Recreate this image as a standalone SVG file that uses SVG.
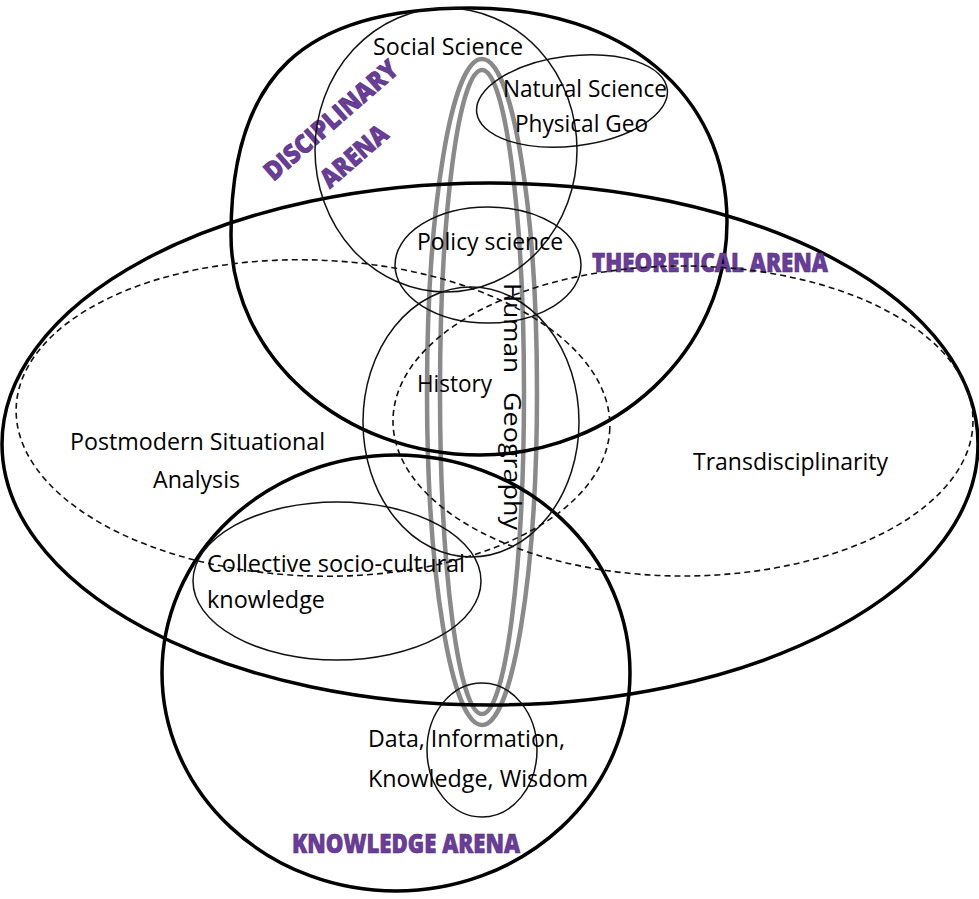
<svg xmlns="http://www.w3.org/2000/svg" width="979" height="899" viewBox="0 0 979 899">
  <defs>
    <style>
      .arena { fill: none; stroke: #000; stroke-width: 3.5; }
      .circle { fill: none; stroke: #111; stroke-width: 1.5; }
      .dashed { fill: none; stroke: #111; stroke-width: 1.6; stroke-dasharray: 6 4; }
      .loop { fill: none; stroke: #8a8a8a; stroke-width: 4.5; }
      .lbl { font-family: "Open Sans", "Noto Sans", sans-serif; font-size: 24px; fill: #000; }
      .arena-lbl { font-family: "Open Sans", "Noto Sans", sans-serif; font-weight: 800; font-size: 26px; fill: #6a3d9a; stroke: #4b2a72; stroke-width: 0.6; }
    </style>
  </defs>
  <rect width="979" height="899" fill="#fff"/>

  <!-- Human Geography: long double-lined loop running through the arenas -->
  <g id="human-geography">
    <ellipse class="loop" cx="482" cy="392" rx="55" ry="333"/>
    <ellipse class="loop" cx="482" cy="392" rx="42" ry="322"/>
  </g>

  <!-- Disciplinary arena -->
  <g id="disciplinary-arena">
    <path class="arena" d="M231,235 C231,76 303,8 470,8 C624,8 727,94 727,222 C727,351 615,455 480,455 C342,455 231,356 231,235 Z"/>
    <text class="arena-lbl" transform="translate(337,127) rotate(-41)" text-anchor="middle" textLength="168" lengthAdjust="spacingAndGlyphs">DISCIPLINARY</text>
    <text class="arena-lbl" transform="translate(360,163) rotate(-41)" text-anchor="middle" textLength="80" lengthAdjust="spacingAndGlyphs">ARENA</text>
  </g>

  <!-- Theoretical arena -->
  <g id="theoretical-arena">
    <ellipse class="arena" cx="490" cy="444" rx="488" ry="261"/>
    <text class="arena-lbl" x="592" y="272" textLength="236" lengthAdjust="spacingAndGlyphs">THEORETICAL ARENA</text>
  </g>

  <!-- Knowledge arena -->
  <g id="knowledge-arena">
    <ellipse class="arena" cx="396" cy="673" rx="234" ry="218"/>
    <text class="arena-lbl" x="292" y="853" textLength="228" lengthAdjust="spacingAndGlyphs">KNOWLEDGE ARENA</text>
  </g>

  <!-- Postmodern situational analysis (dashed) -->
  <g id="postmodern">
    <ellipse class="dashed" cx="313" cy="418" rx="297" ry="158" transform="rotate(2 313 418)"/>
    <text class="lbl" x="70" y="450" textLength="255" lengthAdjust="spacingAndGlyphs">Postmodern Situational</text>
    <text class="lbl" x="153" y="488" textLength="87" lengthAdjust="spacingAndGlyphs">Analysis</text>
  </g>

  <!-- Transdisciplinarity (dashed) -->
  <g id="transdisciplinarity">
    <ellipse class="dashed" cx="683" cy="421" rx="290" ry="155"/>
    <text class="lbl" x="693" y="470" textLength="195" lengthAdjust="spacingAndGlyphs">Transdisciplinarity</text>
  </g>

  <g id="social-science">
    <ellipse class="circle" cx="446" cy="150" rx="131" ry="142"/>
    <text class="lbl" x="373" y="55" textLength="150" lengthAdjust="spacingAndGlyphs">Social Science</text>
  </g>

  <g id="natural-science">
    <ellipse class="circle" cx="572" cy="101" rx="96" ry="45" transform="rotate(-7 572 101)"/>
    <text class="lbl" x="503" y="97" textLength="164" lengthAdjust="spacingAndGlyphs">Natural Science</text>
    <text class="lbl" x="515" y="132" textLength="133" lengthAdjust="spacingAndGlyphs">Physical Geo</text>
  </g>

  <g id="policy-science">
    <ellipse class="circle" cx="488" cy="265" rx="93" ry="58"/>
    <text class="lbl" x="417" y="250" textLength="146" lengthAdjust="spacingAndGlyphs">Policy science</text>
  </g>

  <g id="history">
    <ellipse class="circle" cx="471" cy="422" rx="108" ry="135"/>
    <text class="lbl" x="417" y="392" textLength="75" lengthAdjust="spacingAndGlyphs">History</text>
  </g>

  <g id="collective-knowledge">
    <ellipse class="circle" cx="337" cy="581" rx="144" ry="79"/>
    <text class="lbl" x="207" y="572" textLength="258" lengthAdjust="spacingAndGlyphs">Collective socio-cultural</text>
    <text class="lbl" x="207" y="608" textLength="118" lengthAdjust="spacingAndGlyphs">knowledge</text>
  </g>

  <g id="data-wisdom">
    <ellipse class="circle" cx="482" cy="750" rx="55" ry="67"/>
    <text class="lbl" x="368" y="747" textLength="197" lengthAdjust="spacingAndGlyphs">Data, Information,</text>
    <text class="lbl" x="368" y="787" textLength="220" lengthAdjust="spacingAndGlyphs">Knowledge, Wisdom</text>
  </g>

  <!-- vertical label of the Human Geography loop -->
  <g id="human-geography-label">
    <text class="lbl" transform="translate(504,283) rotate(90)" textLength="90" lengthAdjust="spacingAndGlyphs">Human</text>
    <text class="lbl" transform="translate(504,392) rotate(90)" textLength="138" lengthAdjust="spacingAndGlyphs">Geography</text>
  </g>

  <g id="connectors"/>
</svg>
